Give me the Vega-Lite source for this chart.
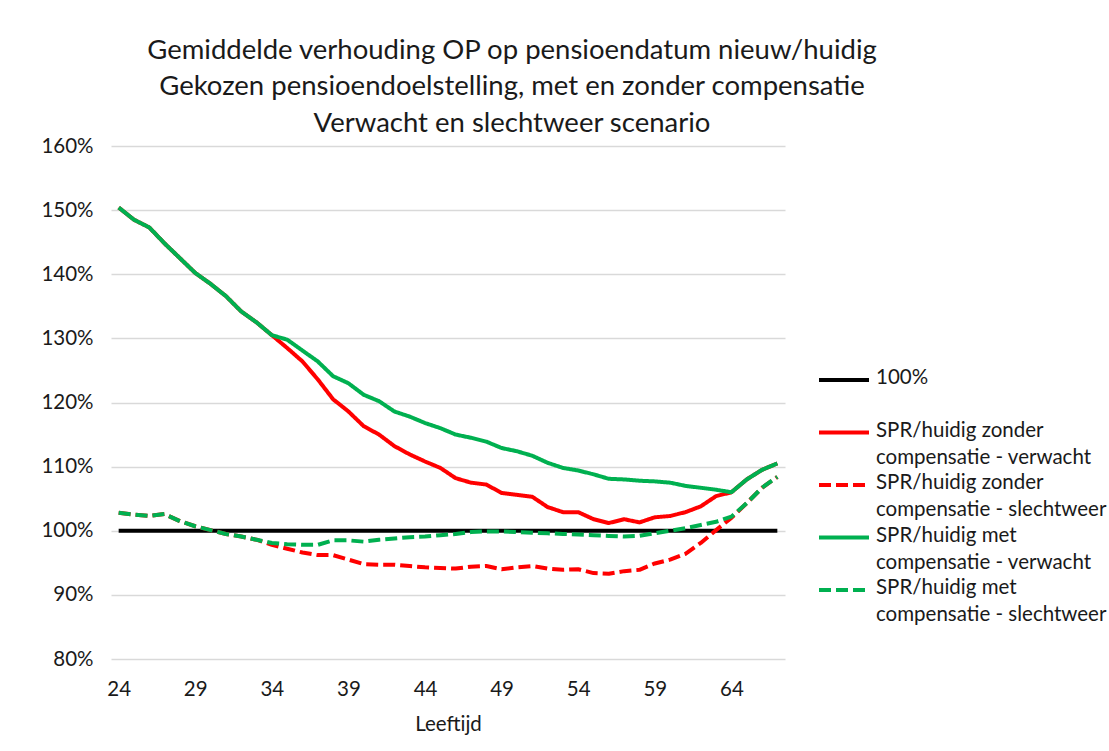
{
  "$schema": "https://vega.github.io/schema/vega-lite/v6.json",
  "width": 674,
  "height": 513,
  "autosize": "none",
  "padding": {"left": 111, "top": 146, "right": 324, "bottom": 92},
  "background": "white",
  "title": {
    "text": ["Gemiddelde verhouding OP op pensioendatum nieuw/huidig", "Gekozen pensioendoelstelling, met en zonder compensatie", "Verwacht en slechtweer scenario"],
    "font": "Lato",
    "fontSize": 27.5,
    "fontWeight": "normal",
    "color": "#1a1a1a",
    "anchor": "middle",
    "lineHeight": 36.5,
    "dx": 64,
    "offset": -1
  },
  "data": {
    "values": [
      {"age":24,"s":"A","v":100},{"age":25,"s":"A","v":100},{"age":26,"s":"A","v":100},{"age":27,"s":"A","v":100},{"age":28,"s":"A","v":100},{"age":29,"s":"A","v":100},{"age":30,"s":"A","v":100},{"age":31,"s":"A","v":100},{"age":32,"s":"A","v":100},{"age":33,"s":"A","v":100},{"age":34,"s":"A","v":100},{"age":35,"s":"A","v":100},{"age":36,"s":"A","v":100},{"age":37,"s":"A","v":100},{"age":38,"s":"A","v":100},{"age":39,"s":"A","v":100},{"age":40,"s":"A","v":100},{"age":41,"s":"A","v":100},{"age":42,"s":"A","v":100},{"age":43,"s":"A","v":100},{"age":44,"s":"A","v":100},{"age":45,"s":"A","v":100},{"age":46,"s":"A","v":100},{"age":47,"s":"A","v":100},{"age":48,"s":"A","v":100},{"age":49,"s":"A","v":100},{"age":50,"s":"A","v":100},{"age":51,"s":"A","v":100},{"age":52,"s":"A","v":100},{"age":53,"s":"A","v":100},{"age":54,"s":"A","v":100},{"age":55,"s":"A","v":100},{"age":56,"s":"A","v":100},{"age":57,"s":"A","v":100},{"age":58,"s":"A","v":100},{"age":59,"s":"A","v":100},{"age":60,"s":"A","v":100},{"age":61,"s":"A","v":100},{"age":62,"s":"A","v":100},{"age":63,"s":"A","v":100},{"age":64,"s":"A","v":100},{"age":65,"s":"A","v":100},{"age":66,"s":"A","v":100},{"age":67,"s":"A","v":100},

      {"age":24,"s":"B","v":150.4},{"age":25,"s":"B","v":148.5},{"age":26,"s":"B","v":147.3},{"age":27,"s":"B","v":144.8},{"age":28,"s":"B","v":142.5},{"age":29,"s":"B","v":140.2},{"age":30,"s":"B","v":138.5},{"age":31,"s":"B","v":136.6},{"age":32,"s":"B","v":134.2},{"age":33,"s":"B","v":132.5},{"age":34,"s":"B","v":130.5},{"age":35,"s":"B","v":128.5},{"age":36,"s":"B","v":126.4},{"age":37,"s":"B","v":123.6},{"age":38,"s":"B","v":120.5},{"age":39,"s":"B","v":118.6},{"age":40,"s":"B","v":116.3},{"age":41,"s":"B","v":115.0},{"age":42,"s":"B","v":113.2},{"age":43,"s":"B","v":111.9},{"age":44,"s":"B","v":110.8},{"age":45,"s":"B","v":109.8},{"age":46,"s":"B","v":108.2},{"age":47,"s":"B","v":107.5},{"age":48,"s":"B","v":107.2},{"age":49,"s":"B","v":105.9},{"age":50,"s":"B","v":105.6},{"age":51,"s":"B","v":105.3},{"age":52,"s":"B","v":103.7},{"age":53,"s":"B","v":102.9},{"age":54,"s":"B","v":102.9},{"age":55,"s":"B","v":101.8},{"age":56,"s":"B","v":101.2},{"age":57,"s":"B","v":101.8},{"age":58,"s":"B","v":101.3},{"age":59,"s":"B","v":102.1},{"age":60,"s":"B","v":102.3},{"age":61,"s":"B","v":102.9},{"age":62,"s":"B","v":103.8},{"age":63,"s":"B","v":105.4},{"age":64,"s":"B","v":106.0},{"age":65,"s":"B","v":108.0},{"age":66,"s":"B","v":109.5},{"age":67,"s":"B","v":110.5},

      {"age":24,"s":"C","v":102.8},{"age":25,"s":"C","v":102.5},{"age":26,"s":"C","v":102.3},{"age":27,"s":"C","v":102.6},{"age":28,"s":"C","v":101.5},{"age":29,"s":"C","v":100.7},{"age":30,"s":"C","v":100.1},{"age":31,"s":"C","v":99.5},{"age":32,"s":"C","v":99.1},{"age":33,"s":"C","v":98.6},{"age":34,"s":"C","v":97.8},{"age":35,"s":"C","v":97.2},{"age":36,"s":"C","v":96.6},{"age":37,"s":"C","v":96.2},{"age":38,"s":"C","v":96.2},{"age":39,"s":"C","v":95.5},{"age":40,"s":"C","v":94.8},{"age":41,"s":"C","v":94.7},{"age":42,"s":"C","v":94.7},{"age":43,"s":"C","v":94.5},{"age":44,"s":"C","v":94.3},{"age":45,"s":"C","v":94.2},{"age":46,"s":"C","v":94.1},{"age":47,"s":"C","v":94.4},{"age":48,"s":"C","v":94.5},{"age":49,"s":"C","v":94.0},{"age":50,"s":"C","v":94.3},{"age":51,"s":"C","v":94.5},{"age":52,"s":"C","v":94.1},{"age":53,"s":"C","v":93.9},{"age":54,"s":"C","v":94.0},{"age":55,"s":"C","v":93.4},{"age":56,"s":"C","v":93.3},{"age":57,"s":"C","v":93.7},{"age":58,"s":"C","v":93.9},{"age":59,"s":"C","v":94.9},{"age":60,"s":"C","v":95.5},{"age":61,"s":"C","v":96.4},{"age":62,"s":"C","v":98.1},{"age":63,"s":"C","v":100.1},{"age":64,"s":"C","v":102.0},{"age":65,"s":"C","v":104.3},{"age":66,"s":"C","v":106.7},{"age":67,"s":"C","v":108.4},

      {"age":24,"s":"D","v":150.4},{"age":25,"s":"D","v":148.5},{"age":26,"s":"D","v":147.3},{"age":27,"s":"D","v":144.8},{"age":28,"s":"D","v":142.5},{"age":29,"s":"D","v":140.2},{"age":30,"s":"D","v":138.5},{"age":31,"s":"D","v":136.6},{"age":32,"s":"D","v":134.2},{"age":33,"s":"D","v":132.5},{"age":34,"s":"D","v":130.5},{"age":35,"s":"D","v":129.8},{"age":36,"s":"D","v":128.1},{"age":37,"s":"D","v":126.4},{"age":38,"s":"D","v":124.1},{"age":39,"s":"D","v":123.0},{"age":40,"s":"D","v":121.2},{"age":41,"s":"D","v":120.2},{"age":42,"s":"D","v":118.6},{"age":43,"s":"D","v":117.8},{"age":44,"s":"D","v":116.8},{"age":45,"s":"D","v":116.0},{"age":46,"s":"D","v":115.0},{"age":47,"s":"D","v":114.5},{"age":48,"s":"D","v":113.9},{"age":49,"s":"D","v":112.9},{"age":50,"s":"D","v":112.4},{"age":51,"s":"D","v":111.7},{"age":52,"s":"D","v":110.6},{"age":53,"s":"D","v":109.8},{"age":54,"s":"D","v":109.4},{"age":55,"s":"D","v":108.8},{"age":56,"s":"D","v":108.1},{"age":57,"s":"D","v":108.0},{"age":58,"s":"D","v":107.8},{"age":59,"s":"D","v":107.7},{"age":60,"s":"D","v":107.5},{"age":61,"s":"D","v":107.0},{"age":62,"s":"D","v":106.7},{"age":63,"s":"D","v":106.4},{"age":64,"s":"D","v":106.0},{"age":65,"s":"D","v":108.0},{"age":66,"s":"D","v":109.5},{"age":67,"s":"D","v":110.5},

      {"age":24,"s":"E","v":102.8},{"age":25,"s":"E","v":102.5},{"age":26,"s":"E","v":102.3},{"age":27,"s":"E","v":102.6},{"age":28,"s":"E","v":101.5},{"age":29,"s":"E","v":100.7},{"age":30,"s":"E","v":100.1},{"age":31,"s":"E","v":99.5},{"age":32,"s":"E","v":99.1},{"age":33,"s":"E","v":98.6},{"age":34,"s":"E","v":98.1},{"age":35,"s":"E","v":97.9},{"age":36,"s":"E","v":97.8},{"age":37,"s":"E","v":97.8},{"age":38,"s":"E","v":98.5},{"age":39,"s":"E","v":98.5},{"age":40,"s":"E","v":98.3},{"age":41,"s":"E","v":98.6},{"age":42,"s":"E","v":98.8},{"age":43,"s":"E","v":99.0},{"age":44,"s":"E","v":99.1},{"age":45,"s":"E","v":99.3},{"age":46,"s":"E","v":99.5},{"age":47,"s":"E","v":99.8},{"age":48,"s":"E","v":99.9},{"age":49,"s":"E","v":99.9},{"age":50,"s":"E","v":99.8},{"age":51,"s":"E","v":99.7},{"age":52,"s":"E","v":99.6},{"age":53,"s":"E","v":99.5},{"age":54,"s":"E","v":99.4},{"age":55,"s":"E","v":99.3},{"age":56,"s":"E","v":99.2},{"age":57,"s":"E","v":99.1},{"age":58,"s":"E","v":99.2},{"age":59,"s":"E","v":99.6},{"age":60,"s":"E","v":100.0},{"age":61,"s":"E","v":100.4},{"age":62,"s":"E","v":100.9},{"age":63,"s":"E","v":101.4},{"age":64,"s":"E","v":102.2},{"age":65,"s":"E","v":104.3},{"age":66,"s":"E","v":106.7},{"age":67,"s":"E","v":108.4}
    ]
  },
  "mark": {"type": "line", "strokeWidth": 4, "strokeCap": "butt", "strokeJoin": "round"},
  "encoding": {
    "x": {
      "field": "age",
      "type": "quantitative",
      "scale": {"domain": [23.5, 67.5], "nice": false, "zero": false},
      "axis": {
        "values": [24, 29, 34, 39, 44, 49, 54, 59, 64],
        "title": "Leeftijd",
        "grid": false,
        "domain": false,
        "ticks": false,
        "tickSize": 0,
        "labelPadding": 20,
        "labelFont": "Lato",
        "labelFontSize": 20.5,
        "labelColor": "#1a1a1a",
        "titleFont": "Lato",
        "titleFontSize": 20.5,
        "titleFontWeight": "normal",
        "titleColor": "#1a1a1a",
        "titlePadding": 15
      }
    },
    "y": {
      "field": "v",
      "type": "quantitative",
      "scale": {"domain": [80, 160], "nice": false, "zero": false},
      "axis": {
        "values": [80, 90, 100, 110, 120, 130, 140, 150, 160],
        "labelExpr": "datum.value + '%'",
        "title": null,
        "grid": true,
        "gridColor": "#d9d9d9",
        "gridWidth": 1.5,
        "domain": false,
        "ticks": false,
        "tickSize": 0,
        "labelPadding": 18,
        "labelFont": "Lato",
        "labelFontSize": 20.5,
        "labelColor": "#1a1a1a"
      }
    },
    "color": {
      "field": "s",
      "type": "nominal",
      "scale": {"domain": ["A", "B", "C", "D", "E"], "range": ["#000000", "#ff0000", "#ff0000", "#00b050", "#00b050"]},
      "legend": {
        "title": null,
        "orient": "none",
        "legendX": 707,
        "legendY": 222,
        "symbolType": "M-1.1,0H3.9",
        "symbolSize": 400,
        "symbolStrokeWidth": 4,
        "labelFont": "Lato",
        "labelFontSize": 20.5,
        "labelColor": "#1a1a1a",
        "labelLimit": 400,
        "labelOffset": 34,
        "labelBaseline": "top",
        "rowPadding": 4.5,
        "gridAlign": "all",
        "labelExpr": "datum.value == 'A' ? ['100%'] : datum.value == 'B' ? ['SPR/huidig zonder', 'compensatie - verwacht'] : datum.value == 'C' ? ['SPR/huidig zonder', 'compensatie - slechtweer'] : datum.value == 'D' ? ['SPR/huidig met', 'compensatie - verwacht'] : ['SPR/huidig met', 'compensatie - slechtweer']",
        "encode": {"labels": {"enter": {"lineHeight": {"value": 27}}, "update": {"dy": {"value": -12}, "lineHeight": {"value": 27}}}}
      }
    },
    "strokeDash": {
      "field": "s",
      "type": "nominal",
      "scale": {"domain": ["A", "B", "C", "D", "E"], "range": [[1, 0], [1, 0], [12, 5], [1, 0], [12, 5]]},
      "legend": null
    },
    "order": {"field": "age", "type": "quantitative"}
  },
  "config": {"view": {"stroke": null}}
}
